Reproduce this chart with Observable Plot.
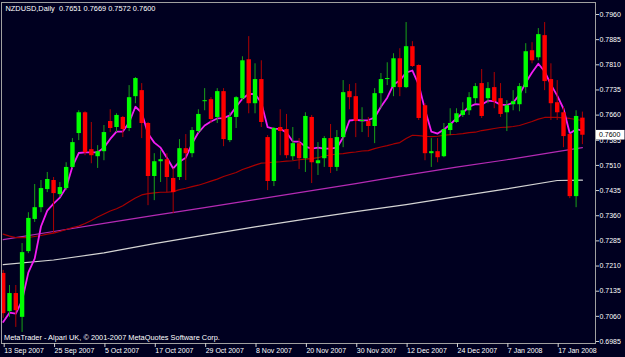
<!DOCTYPE html>
<html>
<head>
<meta charset="utf-8">
<script src="https://cdn.jsdelivr.net/npm/d3@7"></script>
<script src="https://cdn.jsdelivr.net/npm/@observablehq/plot@0.6"></script>
<style>
html,body{margin:0;padding:0;background:#000020;overflow:hidden;}
#chart{width:625px;height:357px;}
</style>
</head>
<body>
<div id="chart"></div>
<script>
// Daily NZDUSD bars, 13 Sep 2007 .. 23 Jan 2008 (bar index 0..92)
const opens = [0.7188,0.7074,0.7128,0.7057,0.7253,0.7349,0.7384,0.7438,0.7465,0.7423,
0.7441,0.7504,0.7605,0.7667,0.7557,0.7536,0.7551,0.7641,0.7623,0.7653,
0.7620,0.7715,0.7733,0.7635,0.7477,0.7521,0.7527,0.7471,0.7474,0.7560,
0.7545,0.7611,0.7700,0.7706,0.7653,0.7730,0.7584,0.7653,0.7709,0.7825,
0.7694,0.7766,0.7593,0.7462,0.7623,0.7617,0.7536,0.7575,0.7530,0.7653,
0.7515,0.7530,0.7590,0.7504,0.7593,0.7730,0.7715,0.7641,0.7641,0.7626,
0.7724,0.7766,0.7742,0.7828,0.7742,0.7864,0.7808,0.7688,0.7545,0.7551,
0.7536,0.7614,0.7638,0.7659,0.7673,0.7709,0.7754,0.7709,0.7742,0.7709,
0.7667,0.7691,0.7691,0.7742,0.7852,0.7831,0.7897,0.7766,0.7697,0.7667,
0.7602,0.7417,0.7651];
const highs = [0.7197,0.7152,0.7152,0.7277,0.7369,0.7453,0.7465,0.7489,0.7474,0.7459,
0.7518,0.7590,0.7673,0.7670,0.7638,0.7569,0.7629,0.7676,0.7664,0.7656,
0.7748,0.7772,0.7754,0.7638,0.7545,0.7554,0.7545,0.7501,0.7587,0.7602,
0.7623,0.7676,0.7739,0.7712,0.7739,0.7739,0.7667,0.7715,0.7834,0.7894,
0.7813,0.7822,0.7599,0.7623,0.7676,0.7662,0.7623,0.7590,0.7667,0.7659,
0.7578,0.7596,0.7632,0.7614,0.7763,0.7751,0.7754,0.7682,0.7653,0.7739,
0.7784,0.7816,0.7843,0.7858,0.7936,0.7879,0.7810,0.7694,0.7590,0.7590,
0.7635,0.7679,0.7679,0.7697,0.7727,0.7754,0.7796,0.7757,0.7787,0.7754,
0.7703,0.7733,0.7754,0.7873,0.7876,0.7918,0.7936,0.7813,0.7763,0.7682,
0.7605,0.7673,0.7669];
const lows = [0.7054,0.7057,0.7027,0.7012,0.7247,0.7340,0.7369,0.7429,0.7307,0.7414,
0.7435,0.7501,0.7584,0.7539,0.7515,0.7501,0.7524,0.7608,0.7608,0.7593,
0.7611,0.7694,0.7590,0.7390,0.7405,0.7459,0.7429,0.7366,0.7465,0.7465,
0.7533,0.7605,0.7673,0.7635,0.7635,0.7566,0.7578,0.7620,0.7703,0.7664,
0.7664,0.7623,0.7435,0.7447,0.7539,0.7530,0.7524,0.7498,0.7489,0.7456,
0.7480,0.7504,0.7486,0.7492,0.7563,0.7676,0.7593,0.7608,0.7593,0.7575,
0.7679,0.7748,0.7715,0.7715,0.7739,0.7802,0.7644,0.7524,0.7504,0.7518,
0.7533,0.7599,0.7635,0.7653,0.7659,0.7694,0.7650,0.7694,0.7679,0.7653,
0.7611,0.7673,0.7670,0.7724,0.7813,0.7822,0.7733,0.7644,0.7644,0.7563,
0.7411,0.7384,0.7572];
const closes = [0.7068,0.7128,0.7077,0.7250,0.7352,0.7384,0.7441,0.7468,0.7426,0.7444,
0.7504,0.7578,0.7667,0.7548,0.7539,0.7551,0.7608,0.7620,0.7659,0.7617,
0.7712,0.7769,0.7635,0.7477,0.7521,0.7527,0.7474,0.7429,0.7560,0.7545,
0.7614,0.7662,0.7703,0.7647,0.7730,0.7587,0.7653,0.7712,0.7822,0.7694,
0.7766,0.7638,0.7462,0.7620,0.7611,0.7539,0.7575,0.7530,0.7656,0.7518,
0.7524,0.7590,0.7504,0.7593,0.7727,0.7712,0.7641,0.7644,0.7626,0.7724,
0.7766,0.7769,0.7828,0.7742,0.7864,0.7805,0.7650,0.7545,0.7551,0.7533,
0.7617,0.7635,0.7664,0.7673,0.7712,0.7745,0.7656,0.7739,0.7700,0.7662,
0.7688,0.7700,0.7745,0.7849,0.7822,0.7900,0.7760,0.7694,0.7667,0.7596,
0.7417,0.7656,0.7600];

// Moving averages
const fastMA = [0.7043,0.7071,0.7068,0.7107,0.7191,0.7232,0.7328,0.7375,0.7396,0.7414,
0.7444,0.7507,0.7547,0.7549,0.7549,0.7549,0.7563,0.7589,0.7611,0.7611,
0.7638,0.7685,0.7667,0.7605,0.7578,0.7563,0.7533,0.7501,0.7521,0.7533,
0.7575,0.7608,0.7629,0.7641,0.7650,0.7651,0.7659,0.7685,0.7709,0.7723,
0.7723,0.7697,0.7624,0.7619,0.7619,0.7608,0.7581,0.7581,0.7566,0.7560,
0.7563,0.7560,0.7560,0.7563,0.7593,0.7644,0.7646,0.7644,0.7645,0.7653,
0.7685,0.7712,0.7751,0.7763,0.7787,0.7793,0.7751,0.7676,0.7611,0.7605,
0.7617,0.7632,0.7650,0.7667,0.7685,0.7693,0.7691,0.7703,0.7701,0.7691,
0.7690,0.7697,0.7721,0.7757,0.7787,0.7813,0.7790,0.7751,0.7718,0.7679,
0.7605,0.7618,0.7614];
const midMA = [0.7305,0.7299,0.7295,0.7295,0.7295,0.7298,0.7301,0.7305,0.7308,0.7313,
0.7319,0.7325,0.7329,0.7337,0.7346,0.7356,0.7365,0.7374,0.7381,0.7390,
0.7402,0.7413,0.7422,0.7426,0.7428,0.7430,0.7430,0.7432,0.7438,0.7442,
0.7447,0.7451,0.7457,0.7463,0.7469,0.7477,0.7483,0.7489,0.7498,0.7504,
0.7511,0.7517,0.7518,0.7520,0.7521,0.7523,0.7524,0.7527,0.7529,0.7530,
0.7533,0.7538,0.7541,0.7544,0.7545,0.7548,0.7550,0.7553,0.7554,0.7560,
0.7565,0.7569,0.7574,0.7578,0.7590,0.7600,0.7599,0.7597,0.7596,0.7597,
0.7600,0.7602,0.7603,0.7605,0.7608,0.7609,0.7614,0.7617,0.7620,0.7623,
0.7624,0.7626,0.7629,0.7635,0.7641,0.7648,0.7653,0.7653,0.7653,0.7652,
0.7650,0.7647,0.7644];
const slowIdx = [0,8,16,24,32,40,48,56,64,72,80,88,92];
const purpleMA = [0.7289,0.7313,0.7337,0.7361,0.7384,0.7408,0.7432,0.7456,0.7481,0.7505,0.7527,0.7551,0.7563];
const whiteMA = [0.7214,0.7228,0.7249,0.7277,0.7302,0.7327,0.7350,0.7372,0.7393,0.7417,0.7440,0.7465,0.7466];

// Axis ticks
const xTickIdx = [0,8,16,24,32,40,48,56,64,72,80,88];
const xTickLabels = ["13 Sep 2007","25 Sep 2007","5 Oct 2007","17 Oct 2007","29 Oct 2007","8 Nov 2007","20 Nov 2007","30 Nov 2007","12 Dec 2007","24 Dec 2007","7 Jan 2008","17 Jan 2008"];
const yTicks = [0.6985,0.7060,0.7135,0.7210,0.7285,0.7360,0.7435,0.7510,0.7585,0.7660,0.7735,0.7810,0.7885,0.7960];

const titleText = "NZDUSD,Daily  0.7651 0.7669 0.7572 0.7600";
const footerText = "MetaTrader - Alpari UK, \u00A9 2001-2007 MetaQuotes Software Corp.";

const bars = opens.map((o, i) => ({i, o, h: highs[i], l: lows[i], c: closes[i], up: closes[i] >= o}));
const fast = fastMA.map((v, i) => ({i, v}));
const mid = midMA.map((v, i) => ({i, v}));
const purple = slowIdx.map((i, k) => ({i, v: purpleMA[k]}));
const white = slowIdx.map((i, k) => ({i, v: whiteMA[k]}));

const FONT = "'Liberation Sans', Arial, sans-serif";

const plot = Plot.plot({
  width: 625,
  height: 357,
  marginLeft: 1,
  marginRight: 30,
  marginTop: 2,
  marginBottom: 14,
  style: {background: "#000020", color: "#ffffff", fontFamily: FONT, fontSize: "7px", overflow: "visible"},
  x: {type: "linear", domain: [0, 92], range: [2.7, 581.9], axis: null},
  y: {domain: [0.6985, 0.7960], range: [341, 14], axis: null},
  color: {type: "identity"},
  marks: [
    Plot.line(white, {x: "i", y: "v", stroke: "#d4d4d4", strokeWidth: 1.2, clip: true}),
    Plot.line(purple, {x: "i", y: "v", stroke: "#b42ab4", strokeWidth: 1.2, clip: true}),
    Plot.line(mid, {x: "i", y: "v", stroke: "#a80000", strokeWidth: 1.2, clip: true}),
    Plot.line(fast, {x: "i", y: "v", stroke: "#f21cf2", strokeWidth: 1.8, clip: true}),
    Plot.ruleX(bars, {x: "i", y1: "l", y2: "h", stroke: d => d.up ? "#18a018" : "#b00000", strokeWidth: 1, clip: true}),
    Plot.ruleX(bars, {x: "i", y1: "o", y2: "c", stroke: d => d.up ? "#00ff00" : "#ff0000", strokeWidth: 4.4, clip: true}),
    Plot.frame({stroke: "#a0a0a0"}),
    Plot.axisY(yTicks, {anchor: "right", tickSize: 3, tickPadding: 1, tickFormat: d => d.toFixed(4), label: null, fill: "#ffffff", stroke: "#d0d0d0", fontSize: 7}),
    Plot.axisX(xTickIdx, {anchor: "bottom", tickSize: 4, tickPadding: 1, tickFormat: d => xTickLabels[xTickIdx.indexOf(d)], textAnchor: "start", dx: 1, label: null, fill: "#ffffff", stroke: "#d0d0d0", fontSize: 7}),
    Plot.text([titleText], {frameAnchor: "top-left", dx: 4, dy: 3.2, textAnchor: "start", lineAnchor: "top", fill: "#ffffff", fontSize: 7.4}),
    Plot.text([footerText], {frameAnchor: "bottom-left", dx: 2.5, dy: -8.8, textAnchor: "start", lineAnchor: "top", fill: "#ffffff", fontSize: 7.4})
  ]
});

document.getElementById("chart").appendChild(plot);

// Current price label on the price axis
const ns = "http://www.w3.org/2000/svg";
const lastClose = closes[closes.length - 1];
const yPos = plot.scale("y").apply(lastClose);
const axisX0 = 625 - 30;
const g = document.createElementNS(ns, "g");
const rect = document.createElementNS(ns, "rect");
rect.setAttribute("x", axisX0 + 1);
rect.setAttribute("y", yPos - 4.8);
rect.setAttribute("width", 28.5);
rect.setAttribute("height", 9.6);
rect.setAttribute("fill", "#ffffff");
g.appendChild(rect);
const txt = document.createElementNS(ns, "text");
txt.setAttribute("x", axisX0 + 4);
txt.setAttribute("y", yPos);
txt.setAttribute("dy", "0.35em");
txt.setAttribute("text-anchor", "start");
txt.setAttribute("fill", "#000000");
txt.setAttribute("font-size", "7");
txt.setAttribute("font-family", FONT);
txt.textContent = lastClose.toFixed(4);
g.appendChild(txt);
plot.appendChild(g);
</script>
</body>
</html>
